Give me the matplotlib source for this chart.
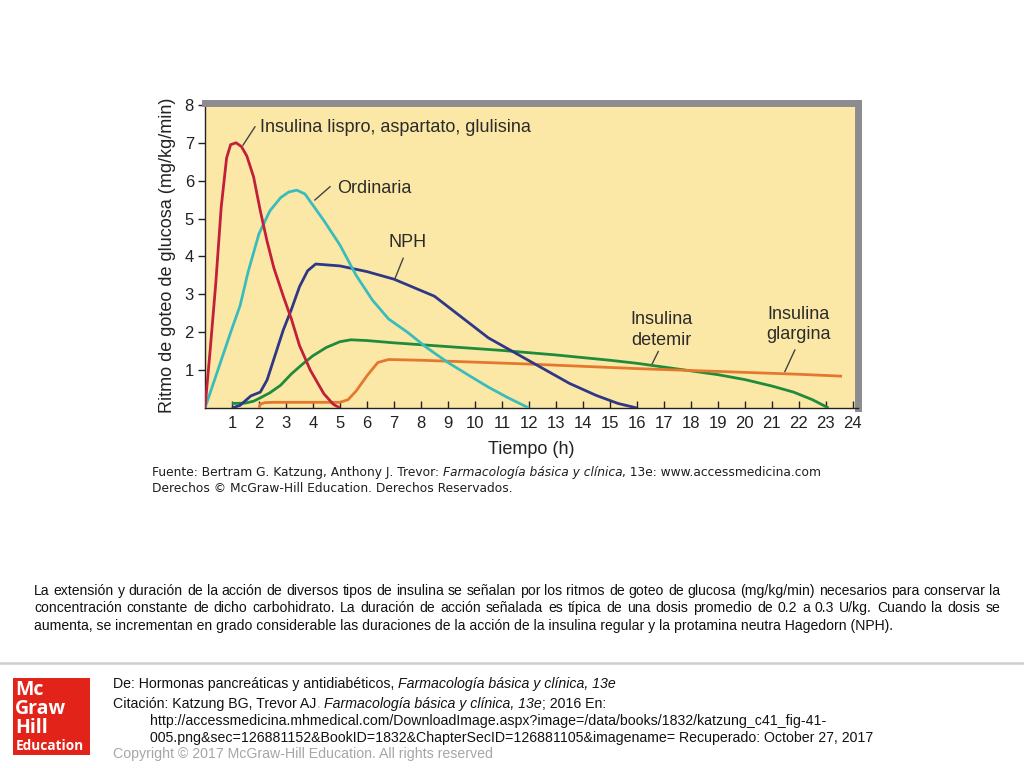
import matplotlib
matplotlib.use('Agg')
import matplotlib.pyplot as plt
from matplotlib.patches import Rectangle
from matplotlib.lines import Line2D

# ---------------- data ----------------
lispro_x = [0, 0.2, 0.4, 0.6, 0.8, 0.95, 1.15, 1.35, 1.55, 1.8, 2.05, 2.3, 2.55, 2.9, 3.2, 3.5, 3.9, 4.4, 4.75, 5.0]
lispro_y = [0, 1.6, 3.3, 5.3, 6.6, 6.95, 7.0, 6.9, 6.65, 6.1, 5.2, 4.4, 3.7, 2.95, 2.35, 1.65, 1.0, 0.38, 0.1, 0]

ordinaria_x = [0, 0.5, 1.0, 1.3, 1.6, 2.0, 2.4, 2.8, 3.1, 3.4, 3.7, 4.0, 4.4, 5.0, 5.6, 6.2, 6.8, 7.5, 8.2, 9.0, 9.8, 10.5, 11.2, 12.0]
ordinaria_y = [0, 1.05, 2.1, 2.7, 3.6, 4.6, 5.2, 5.55, 5.7, 5.75, 5.65, 5.35, 4.95, 4.3, 3.5, 2.85, 2.35, 2.0, 1.6, 1.2, 0.85, 0.55, 0.28, 0]

nph_x = [1.0, 1.3, 1.7, 2.05, 2.3, 2.6, 2.9, 3.2, 3.5, 3.8, 4.1, 5.0, 6.0, 7.0, 8.0, 8.5, 9.5, 10.5, 11.5, 12.5, 13.5, 14.5, 15.3, 16.0]
nph_y = [0, 0.07, 0.32, 0.42, 0.74, 1.4, 2.06, 2.6, 3.2, 3.62, 3.8, 3.75, 3.6, 3.4, 3.1, 2.95, 2.4, 1.85, 1.45, 1.05, 0.65, 0.33, 0.12, 0]

detemir_x = [1.0, 1.5, 1.8, 2.0, 2.4, 2.8, 3.2, 3.6, 4.0, 4.5, 5.0, 5.4, 6.0, 7.0, 8.0, 9.0, 10.0, 11.0, 12.0, 13.0, 14.0, 15.0, 16.0, 17.0, 18.0, 19.0, 20.0, 21.0, 21.8, 22.5, 23.1]
detemir_y = [0.12, 0.13, 0.18, 0.25, 0.4, 0.6, 0.9, 1.15, 1.38, 1.6, 1.75, 1.8, 1.78, 1.72, 1.67, 1.62, 1.57, 1.52, 1.46, 1.4, 1.33, 1.26, 1.18, 1.08, 0.98, 0.88, 0.75, 0.58, 0.42, 0.22, 0]

glargina_x = [2.0, 2.05, 2.2, 2.5, 3.0, 4.0, 5.0, 5.3, 5.6, 6.0, 6.4, 6.8, 8.0, 10.0, 12.0, 14.0, 16.0, 18.0, 20.0, 22.0, 23.6]
glargina_y = [0, 0.1, 0.14, 0.15, 0.15, 0.15, 0.15, 0.22, 0.45, 0.85, 1.2, 1.28, 1.26, 1.21, 1.16, 1.1, 1.04, 0.99, 0.94, 0.89, 0.84]

x_ticks = list(range(1, 25))
y_ticks = list(range(1, 9))

W, H = 1024, 768
fig = plt.figure(figsize=(W / 100, H / 100), dpi=100)
fig.patch.set_facecolor('white')
R = fig.canvas.get_renderer()

SANS = 'Liberation Sans'

# ---------------- chart ----------------
ax = fig.add_axes([205 / W, 1 - 408 / H, (858 - 205) / W, (408 - 103) / H])
ax.set_facecolor('#FCE8A6')
ax.set_xlim(0, 24.19)
ax.set_ylim(0, 8.05)

for s in ['left', 'bottom']:
    ax.spines[s].set_color('#222222')
    ax.spines[s].set_linewidth(1.0)
for s in ['top', 'right']:
    ax.spines[s].set_color('#8C8C90')
    ax.spines[s].set_linewidth(5.0)
    ax.spines[s].set_capstyle('projecting')

ax.set_xticks(x_ticks)
ax.set_xticklabels([str(v) for v in x_ticks], fontsize=12, family=SANS, color='#222222')
ax.set_yticks(y_ticks)
ax.set_yticklabels([str(v) for v in y_ticks], fontsize=12, family=SANS, color='#222222')
ax.tick_params(axis='x', direction='in', length=5, width=1, color='#222222', pad=6)
ax.tick_params(axis='y', direction='out', length=5, width=1, color='#222222', pad=3)

lw = 2.0
ax.plot(detemir_x, detemir_y, color='#1F8B3B', lw=lw, solid_capstyle='butt', zorder=3)
ax.plot(glargina_x, glargina_y, color='#E5782F', lw=lw, solid_capstyle='butt', zorder=3)
ax.plot(nph_x, nph_y, color='#2F3886', lw=lw, solid_capstyle='butt', zorder=4)
ax.plot(ordinaria_x, ordinaria_y, color='#3BBCBC', lw=lw, solid_capstyle='butt', zorder=4)
ax.plot(lispro_x, lispro_y, color='#C21F3A', lw=lw, solid_capstyle='butt', zorder=5)

lab_kw = dict(family=SANS, fontsize=13, color='#2B2B2B')
ax.text(2.04, 7.41, 'Insulina lispro, aspartato, glulisina', ha='left', va='center', **lab_kw)
ax.text(4.9, 5.8, 'Ordinaria', ha='left', va='center', **lab_kw)
ax.text(7.5, 4.38, 'NPH', ha='center', va='center', **lab_kw)
ax.text(16.9, 2.06, 'Insulina\ndetemir', ha='center', va='center', linespacing=1.25, **lab_kw)
ax.text(22.0, 2.2, 'Insulina\nglargina', ha='center', va='center', linespacing=1.25, **lab_kw)

leader = dict(color='#444444', lw=1.0)
ax.plot([1.41, 1.85], [6.94, 7.42], **leader)
ax.plot([4.07, 4.63], [5.49, 5.84], **leader)
ax.plot([7.04, 7.34], [3.42, 3.95], **leader)
ax.plot([16.54, 16.79], [1.13, 1.49], **leader)
ax.plot([21.48, 21.85], [0.96, 1.53], **leader)

ax.set_ylabel('Ritmo de goteo de glucosa (mg/kg/min)', family=SANS, fontsize=13, color='#222222', labelpad=6)
ax.set_xlabel('Tiempo (h)', family=SANS, fontsize=13, color='#222222', labelpad=7)


# ---------------- text helpers ----------------
def fx(x):
    return x / W


def fy(y):
    return 1 - y / H


def width_of(s, **kw):
    t = fig.text(0, 0, s, **kw)
    w = t.get_window_extent(R).width
    t.remove()
    return w


def run(pieces, x, ybase, base_kw):
    """pieces: list of (text, extra_kw); placed one after another on one baseline."""
    cur = x
    for text, extra in pieces:
        kw = dict(base_kw)
        kw.update(extra)
        lead = len(text) - len(text.lstrip(' '))
        trail = len(text) - len(text.rstrip(' '))
        sw = width_of('a a', **kw) - width_of('aa', **kw)
        cur += lead * sw
        core = text.strip(' ')
        t = fig.text(fx(cur), fy(ybase), core, va='baseline', ha='left', **kw)
        cur += t.get_window_extent(R).width + trail * sw


def justify(line, x0, x1, ybase, kw):
    words = line.split(' ')
    ws = [width_of(w, **kw) for w in words]
    gap = (x1 - x0 - sum(ws)) / (len(words) - 1)
    cur = x0
    for w, wd in zip(words, ws):
        fig.text(fx(cur), fy(ybase), w, va='baseline', ha='left', **kw)
        cur += wd + gap


# ---------------- source under chart ----------------
src_kw = dict(family='DejaVu Sans', fontsize=8.8, color='#1E1E1E')
run([('Fuente: Bertram G. Katzung, Anthony J. Trevor: ', {}),
     ('Farmacología básica y clínica', {'style': 'italic'}),
     (', 13e: www.accessmedicina.com', {})], 152, 476, src_kw)
run([('Derechos © McGraw-Hill Education. Derechos Reservados.', {})], 152, 492, src_kw)

# ---------------- caption ----------------
cap_kw = dict(family=SANS, fontsize=10.1, color='#111111')
cap1 = 'La extensión y duración de la acción de diversos tipos de insulina se señalan por los ritmos de goteo de glucosa (mg/kg/min) necesarios para conservar la'
cap2 = 'concentración constante de dicho carbohidrato. La duración de acción señalada es típica de una dosis promedio de 0.2 a 0.3 U/kg. Cuando la dosis se'
cap3 = 'aumenta, se incrementan en grado considerable las duraciones de la acción de la insulina regular y la protamina neutra Hagedorn (NPH).'
justify(cap1, 34, 1000, 595, cap_kw)
justify(cap2, 34, 1000, 612, cap_kw)
run([(cap3, {})], 34, 630, cap_kw)

# ---------------- footer ----------------
fig.add_artist(Line2D([0, 1], [fy(663), fy(663)], transform=fig.transFigure, color='#CFCFCF', lw=1.8))

fig.add_artist(Rectangle((fx(13), fy(755)), 77 / W, 77 / H, transform=fig.transFigure,
                         facecolor='#E2231A', edgecolor='none'))
logo_kw = dict(family='Open Sans', weight='bold', color='white', ha='left')
fig.text(fx(15), fy(680), 'Mc\nGraw\nHill', fontsize=14, va='top', linespacing=0.93, **logo_kw)
fig.text(fx(16), fy(750), 'Education', fontsize=9.8, va='baseline', **logo_kw)

ft_kw = dict(family=SANS, fontsize=10.15, color='#111111')
run([('De: Hormonas pancreáticas y antidiabéticos, ', {}),
     ('Farmacología básica y clínica, 13e', {'style': 'italic'})], 113, 688, ft_kw)
run([('Citación: Katzung BG, Trevor AJ', {}), ('. ', {'color': '#BBBBBB'}),
     ('Farmacología básica y clínica, 13e', {'style': 'italic'}),
     ('; 2016 En:', {})], 113, 708, ft_kw)
run([('http://accessmedicina.mhmedical.com/DownloadImage.aspx?image=/data/books/1832/katzung_c41_fig-41-', {})],
    150, 725, ft_kw)
run([('005.png&sec=126881152&BookID=1832&ChapterSecID=126881105&imagename= Recuperado: October 27, 2017', {})],
    150, 742, ft_kw)
run([('Copyright © 2017 McGraw-Hill Education. All rights reserved', {'color': '#A6A6A6'})], 113, 758, ft_kw)

fig.savefig('out.png', dpi=100, facecolor='white')
